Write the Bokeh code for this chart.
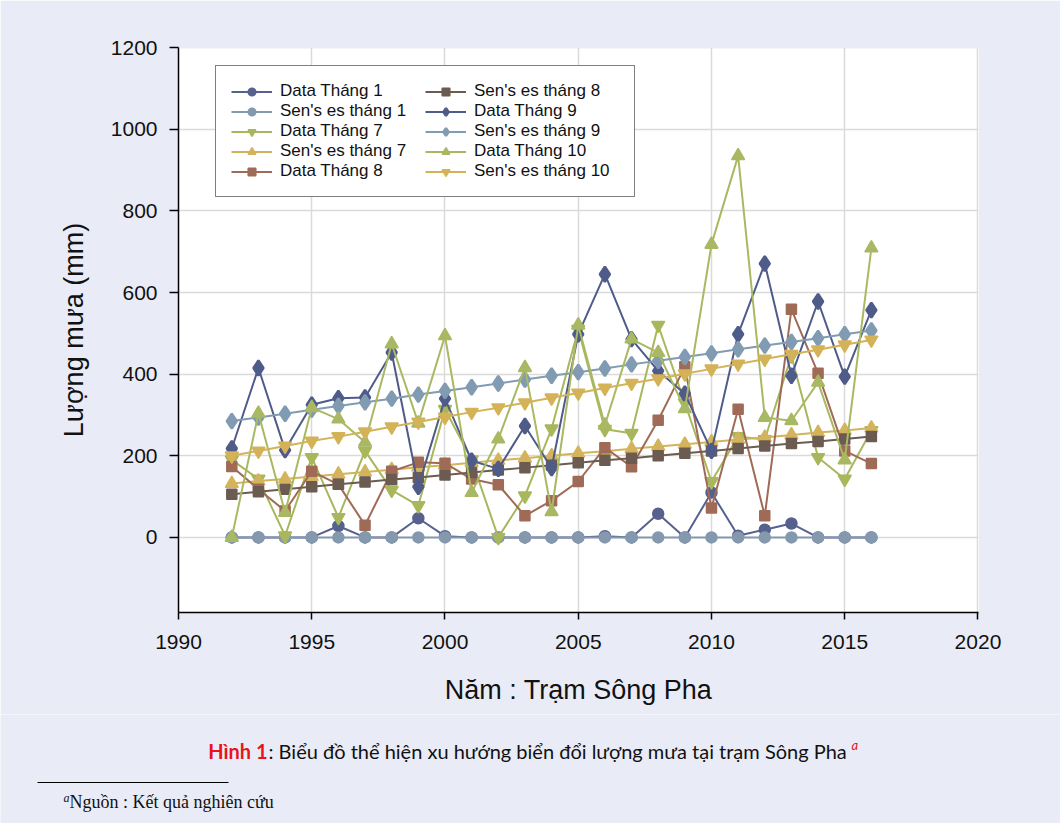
from bokeh.plotting import figure
from bokeh.layouts import column
from bokeh.models import Range1d, Legend, LegendItem, BoxAnnotation, Label, FixedTicker
from bokeh.embed import file_html
from bokeh.resources import INLINE

# ---------------- data ----------------
years = [1992, 1993, 1994, 1995, 1996, 1997, 1998, 1999, 2000, 2001, 2002, 2003, 2004,
         2005, 2006, 2007, 2008, 2009, 2010, 2011, 2012, 2013, 2014, 2015, 2016]

data_t1 = [0, 0, 0, 0, 28, 0, 0, 47, 3, 0, 0, 0, 0, 0, 3, 0, 58, 0, 110, 4, 19, 34, 0, 0, 0]
sen_t1 = [0, 0, 0, 0, 0, 0, 0, 0, 0, 0, 0, 0, 0, 0, 0, 0, 0, 0, 0, 0, 0, 0, 0, 0, 0]
data_t7 = [190, 143, 4, 196, 49, 212, 116, 78, 314, 190, 0, 102, 266, 510, 265, 255, 520, 330,
           137, 247, 240, 445, 196, 143, 262]
sen_t7 = [132, 138, 143, 149, 155, 160, 166, 172, 177, 183, 189, 194, 200, 206, 211, 217, 223,
          228, 234, 240, 245, 251, 257, 262, 268]
data_t8 = [174, 118, 65, 162, 130, 30, 162, 184, 182, 143, 129, 53, 90, 137, 220, 173, 287, 418,
           72, 314, 53, 559, 402, 212, 181]
sen_t8 = [106, 112, 118, 124, 130, 136, 142, 147, 153, 159, 165, 171, 177, 183, 189, 194, 200,
          206, 212, 218, 224, 230, 235, 241, 247]
data_t9 = [218, 415, 214, 325, 341, 343, 453, 124, 340, 188, 168, 273, 170, 498, 645, 486, 408,
           352, 212, 498, 671, 396, 578, 394, 557]
sen_t9 = [285, 294, 303, 313, 322, 331, 340, 350, 359, 368, 377, 387, 396, 405, 414, 424, 433,
          442, 451, 461, 470, 479, 488, 498, 507]
data_t10 = [0, 304, 61, 318, 290, 233, 474, 280, 494, 110, 241, 416, 63, 520, 275, 486, 453, 315,
            718, 935, 294, 286, 380, 190, 709]
sen_t10 = [200, 212, 224, 236, 247, 259, 271, 283, 295, 307, 318, 330, 342, 354, 366, 378, 389,
           401, 413, 425, 437, 449, 460, 472, 484]

x_ticks = [1990, 1995, 2000, 2005, 2010, 2015, 2020]
y_ticks = [0, 200, 400, 600, 800, 1000, 1200]

labels = ["Data Tháng 1", "Sen's es tháng 1", "Data Tháng 7", "Sen's es tháng 7",
          "Data Tháng 8", "Sen's es tháng 8", "Data Tháng 9", "Sen's es tháng 9",
          "Data Tháng 10", "Sen's es tháng 10"]

caption_bold = "Hình 1"
caption_rest = ": Biểu đồ thể hiện xu hướng biển đổi lượng mưa tại trạm Sông Pha"
footnote = "Nguồn : Kết quả nghiên cứu"

# ---------------- geometry (page pixels) ----------------
W = 1060
H_MAIN, H_CAP = 714, 109
FL, FR, FT, FB = 178, 978, 47, 612          # frame edges of the chart
X0, X1 = 1990, 2020.02
Y0, Y1 = -184, 1200.5
BG = "#e9ecf7"


def dx(px):
    return X0 + (px - FL) * (X1 - X0) / (FR - FL)


def dy(py):
    return Y0 + (FB - py) * (Y1 - Y0) / (FB - FT)


AXIS_FONT = "Liberation Sans"
p = figure(width=W, height=H_MAIN, output_backend="svg", toolbar_location=None,
           x_range=Range1d(X0, X1), y_range=Range1d(Y0, Y1),
           min_border_left=FL, min_border_right=W - FR,
           min_border_top=FT, min_border_bottom=H_MAIN - FB)
p.background_fill_color = "white"
p.border_fill_color = BG
p.outline_line_color = None

# white panel behind the chart
p.add_layout(BoxAnnotation(left=dx(36), right=dx(1028), top=dy(24), bottom=dy(720),
                           fill_color="white", fill_alpha=1.0, line_color=None, level="image"))

for ax in (p.xaxis[0], p.yaxis[0]):
    ax.axis_line_color = "black"
    ax.axis_line_width = 1.5
    ax.major_tick_line_color = "black"
    ax.major_tick_line_width = 1.5
    ax.major_tick_in = 0
    ax.minor_tick_line_color = None
    ax.major_label_text_font = AXIS_FONT
    ax.major_label_text_font_size = "21px"
    ax.major_label_text_color = "#111111"
    ax.axis_label_text_font = AXIS_FONT
    ax.axis_label_text_font_size = "27px"
    ax.axis_label_text_font_style = "normal"
    ax.axis_label_text_color = "#111111"

p.xaxis.ticker = FixedTicker(ticks=x_ticks)
p.yaxis.ticker = FixedTicker(ticks=y_ticks)
p.xaxis.major_tick_out = 7
p.yaxis.major_tick_out = 9
p.xaxis.major_label_standoff = 15
p.yaxis.major_label_standoff = 12
p.xaxis.axis_label = "Năm : Trạm Sông Pha"
p.yaxis.axis_label = "Lượng mưa (mm)"
p.xaxis.axis_label_standoff = 23
p.yaxis.axis_label_standoff = 19

p.xgrid.grid_line_color = "#dadada"
p.ygrid.grid_line_color = "#dadada"
p.xgrid.grid_line_width = 1.5
p.ygrid.grid_line_width = 1.5
p.xgrid.ticker = FixedTicker(ticks=x_ticks)
p.ygrid.ticker = FixedTicker(ticks=y_ticks)

# ---------------- series ----------------
series = [
    (data_t1, "#57618e", "circle", 11, 1.5),
    (sen_t1, "#8499ae", "circle", 11, 1.5),
    (data_t7, "#a9b75c", "inverted_triangle", 13, 1.5),
    (sen_t7, "#d3b45c", "triangle", 13, 1.5),
    (data_t8, "#a06b56", "square", 10, 1.5),
    (sen_t8, "#6c5b51", "square", 10, 1.5),
    (data_t9, "#4f5b89", "diamond", 15, 2.5),
    (sen_t9, "#819bb2", "diamond", 15, 2.5),
    (data_t10, "#a9b862", "triangle", 13, 1.5),
    (sen_t10, "#d4b257", "inverted_triangle", 13, 1.5),
]

items = []
for (ys, color, marker, size, lw), lab in zip(series, labels):
    rl = p.line(years, ys, line_color=color, line_width=2)
    rs = p.scatter(years, ys, marker=marker, size=size, line_width=lw,
                   fill_color=color, line_color=color)
    items.append(LegendItem(label=lab, renderers=[rl, rs]))

legend = Legend(items=items, nrows=5, location=(215 - FL, FB - 197),
                label_text_font=AXIS_FONT, label_text_font_size="17px",
                label_text_color="#111111",
                glyph_width=41, glyph_height=19, label_height=19, label_width=145,
                label_standoff=8, spacing=0, padding=15, margin=0,
                border_line_color="black", border_line_width=1.5,
                background_fill_color="white", background_fill_alpha=1.0)
p.add_layout(legend)

# ---------------- caption & footnote (second figure, page pixel coordinates) ----------------
c = figure(width=W, height=H_CAP, output_backend="svg", toolbar_location=None,
           min_border=0, x_axis_location=None, y_axis_location=None)
# the caption strip should span the whole page width, not be aligned with the chart frame
try:
    c.frame_align = False
    p.frame_align = False
    cx0, cx1 = 0, W
except Exception:
    cx0, cx1 = FL, FR
c.x_range = Range1d(cx0, cx1)
c.y_range = Range1d(H_MAIN + H_CAP, H_MAIN)
c.grid.visible = False
c.background_fill_color = BG
c.border_fill_color = BG
c.outline_line_color = None

CAP_FONT = "Lato"
c.add_layout(Label(x=267, y=750, text=caption_bold, text_align="right",
                   text_color="#e8141b", text_font=CAP_FONT, text_font_style="bold",
                   text_font_size="20px", text_baseline="middle"))
c.add_layout(Label(x=268, y=750, text=caption_rest, text_align="left",
                   text_color="#111111", text_font=CAP_FONT,
                   text_font_size="20px", text_baseline="middle"))
c.add_layout(Label(x=851, y=744, text="a",
                   text_color="#e8141b", text_font=CAP_FONT, text_font_style="italic",
                   text_font_size="13px", text_baseline="middle"))

c.add_layout(BoxAnnotation(left=37, right=228, top=781.5, bottom=782.5,
                           fill_color="black", fill_alpha=1.0, line_color=None))
c.add_layout(Label(x=69, y=797, text="a", text_align="right",
                   text_color="#111111", text_font="Liberation Serif", text_font_style="italic",
                   text_font_size="12px", text_baseline="middle"))
c.add_layout(Label(x=69, y=801, text=footnote,
                   text_color="#111111", text_font="Liberation Serif",
                   text_font_size="18px", text_baseline="middle"))

page = column(p, c, spacing=0)
open("out.html", "w").write(file_html(page, INLINE))
